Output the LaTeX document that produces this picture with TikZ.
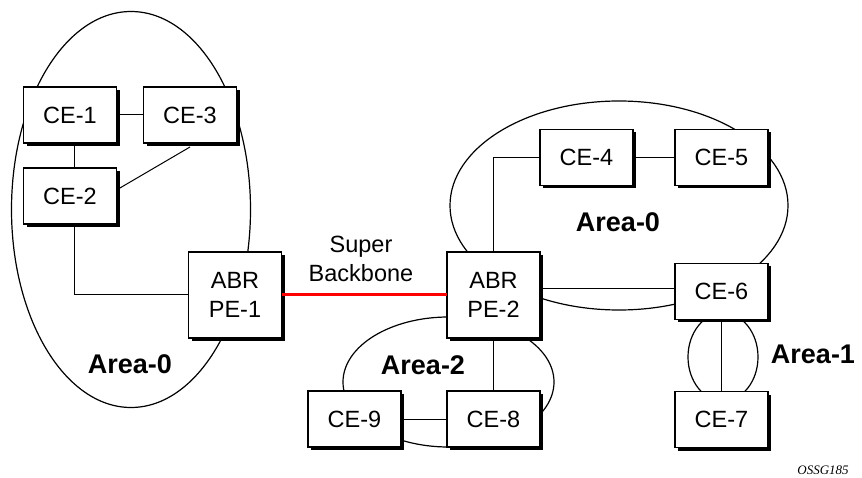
\documentclass[tikz,border=0pt]{standalone}
\usepackage{fontspec}
\setmainfont{Liberation Sans}
\newfontfamily\tagfont{Liberation Serif}
\usepackage{tikz}
\usetikzlibrary{shadows}

\begin{document}
\begin{tikzpicture}[
  x=1pt, y=-1pt,
  font=\fontsize{23.5}{29}\selectfont,
  rtr/.style={draw, fill=white, line width=1.2pt, minimum width=93pt, minimum height=56pt,
              inner sep=0pt, outer sep=0pt, align=center,
              drop shadow={shadow xshift=3pt, shadow yshift=-3pt, fill=black, opacity=1}},
  abr/.style={rtr, minimum height=86pt},
  lnk/.style={line width=1pt, black},
  area/.style={line width=1.2pt, black},
  alabel/.style={font=\fontsize{27}{30}\selectfont\bfseries},
]
\useasboundingbox (0,0) rectangle (862,478);

% areas
\draw[area] (131,209.5) ellipse [x radius=119.5pt, y radius=198pt];
\draw[area] (619,205.5) ellipse [x radius=169pt, y radius=104.5pt];
\draw[area] (448.5,382) ellipse [x radius=105.5pt, y radius=65pt];
\draw[area] (723,357) ellipse [x radius=35pt, y radius=44pt];

% routers
\node[rtr] (ce1) at (70,115) {CE-1};
\node[rtr] (ce3) at (190,115) {CE-3};
\node[rtr] (ce2) at (70,196) {CE-2};
\node[abr] (pe1) at (235,295) {ABR\\PE-1};
\node[abr] (pe2) at (493.5,295) {ABR\\PE-2};
\node[rtr] (ce4) at (586.5,157.5) {CE-4};
\node[rtr] (ce5) at (721.5,157.5) {CE-5};
\node[rtr] (ce6) at (721.5,291.5) {CE-6};
\node[rtr] (ce7) at (721.5,419.5) {CE-7};
\node[rtr] (ce9) at (354.5,419) {CE-9};
\node[rtr] (ce8) at (493.5,419) {CE-8};

% links
\draw[lnk] (ce1) -- (ce3);
\draw[lnk] ([xshift=4pt]ce1.south) -- ([xshift=4pt]ce2.north);
\draw[lnk] ([yshift=6pt]ce2.east) -- ([yshift=-4pt]ce3.south);
\draw[lnk] ([xshift=4pt]ce2.south) |- (pe1.west);
\draw[red, line width=3pt] (pe1.east) -- (pe2.west);
\draw[lnk] (pe2.north) |- (ce4.west);
\draw[lnk] (ce4) -- (ce5);
\draw[lnk] ([yshift=3pt]ce6.west) -- ([yshift=3pt]ce6.west -| pe2.east);
\draw[lnk] (ce6) -- (ce7);
\draw[lnk] (pe2) -- (ce8);
\draw[lnk] (ce9) -- (ce8);

% labels
\node (sbb) at (361,259) [align=center] {Super\\Backbone};
\node[alabel] (a0l) at (130,364) {Area-0};
\node[alabel] (a0r) at (618,222) {Area-0};
\node[alabel] (a2) at (423,365) {Area-2};
\node[alabel] (a1) at (813,354) {Area-1};
\node[font=\fontsize{13}{15}\selectfont\tagfont\itshape] (tag) at (823,470) {OSSG185};
\end{tikzpicture}
\end{document}
